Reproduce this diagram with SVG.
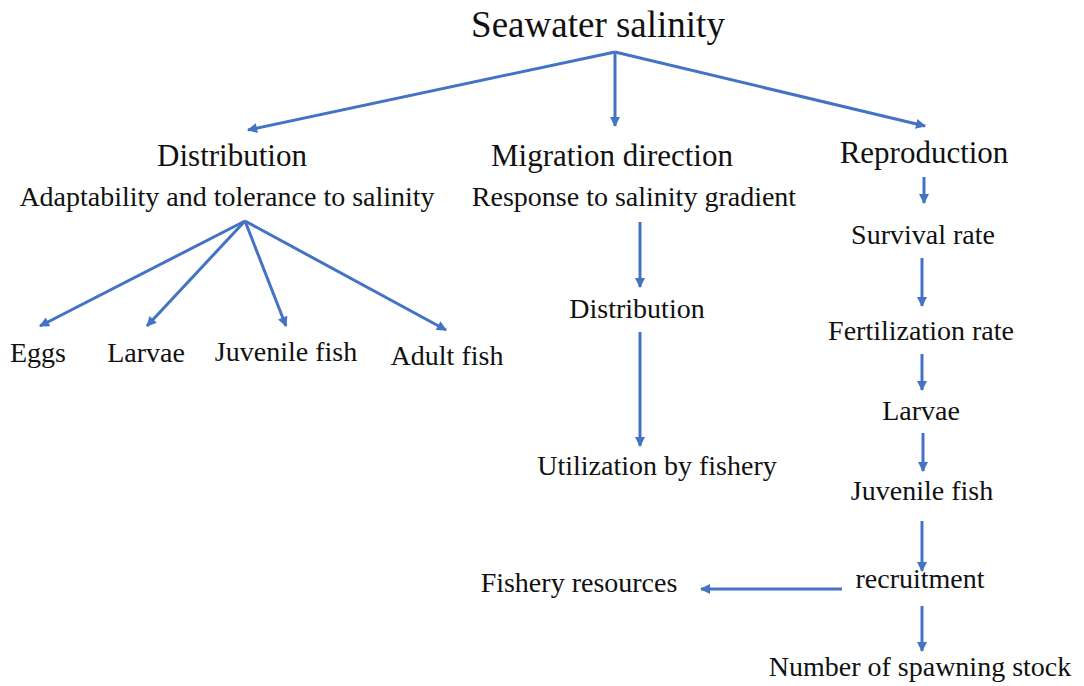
<svg xmlns="http://www.w3.org/2000/svg" width="1084" height="686" viewBox="0 0 1084 686">
<defs>
<marker id="ah" viewBox="0 0 10 10" refX="9" refY="5" markerWidth="12" markerHeight="10" markerUnits="userSpaceOnUse" orient="auto">
<path d="M0,0 L10,5 L0,10 Z" fill="#4472C4"/>
</marker>
<style>
.lbl text{fill:#111;text-anchor:middle}
.t{font-size:37px}
.h{font-size:31px}
.n{font-size:28px}
.c{stroke:#4472C4;stroke-width:3;fill:none;marker-end:url(#ah)}
</style>
</defs>
<rect width="1084" height="686" fill="#fff"/>
<g id="connectors">
<line class="c" x1="615" y1="52" x2="248" y2="130"/>
<line class="c" x1="615" y1="52" x2="615" y2="126"/>
<line class="c" x1="615" y1="52" x2="925" y2="126"/>
<line class="c" x1="245" y1="221" x2="40" y2="326"/>
<line class="c" x1="245" y1="221" x2="147" y2="326"/>
<line class="c" x1="245" y1="221" x2="286" y2="326"/>
<line class="c" x1="245" y1="221" x2="446" y2="330"/>
<line class="c" x1="640" y1="222" x2="640" y2="287"/>
<line class="c" x1="640" y1="332" x2="640" y2="446"/>
<line class="c" x1="924" y1="177" x2="924" y2="203"/>
<line class="c" x1="922" y1="258" x2="922" y2="306"/>
<line class="c" x1="922" y1="354" x2="922" y2="390"/>
<line class="c" x1="923" y1="433" x2="923" y2="471"/>
<line class="c" x1="922" y1="521" x2="922" y2="571"/>
<line class="c" x1="842" y1="589" x2="701" y2="589"/>
<line class="c" x1="922" y1="606" x2="922" y2="651"/>
</g>
<g class="lbl" font-family="'Liberation Serif', 'DejaVu Serif', serif">
<g id="n-seawater"><text class="t" x="598" y="37">Seawater salinity</text></g>
<g id="n-distribution"><text class="h" x="232" y="166">Distribution</text><text class="n" x="227" y="206">Adaptability and tolerance to salinity</text></g>
<g id="n-migration"><text class="h" x="612" y="166">Migration direction</text><text class="n" x="634" y="206">Response to salinity gradient</text></g>
<g id="n-reproduction"><text class="h" x="924" y="163">Reproduction</text></g>
<g id="n-eggs"><text class="n" x="38" y="362">Eggs</text></g>
<g id="n-larvae1"><text class="n" x="146" y="362">Larvae</text></g>
<g id="n-juvenile1"><text class="n" x="286" y="361">Juvenile fish</text></g>
<g id="n-adult"><text class="n" x="447" y="365">Adult fish</text></g>
<g id="n-distribution2"><text class="n" x="637" y="318">Distribution</text></g>
<g id="n-utilization"><text class="n" x="657" y="475">Utilization by fishery</text></g>
<g id="n-survival"><text class="n" x="923" y="244">Survival rate</text></g>
<g id="n-fertilization"><text class="n" x="921" y="340">Fertilization rate</text></g>
<g id="n-larvae2"><text class="n" x="921" y="420">Larvae</text></g>
<g id="n-juvenile2"><text class="n" x="922" y="500">Juvenile fish</text></g>
<g id="n-recruitment"><text class="n" x="920" y="588">recruitment</text></g>
<g id="n-fishery"><text class="n" x="579" y="592">Fishery resources</text></g>
<g id="n-spawning"><text class="n" x="920" y="676">Number of spawning stock</text></g>
</g>
</svg>
